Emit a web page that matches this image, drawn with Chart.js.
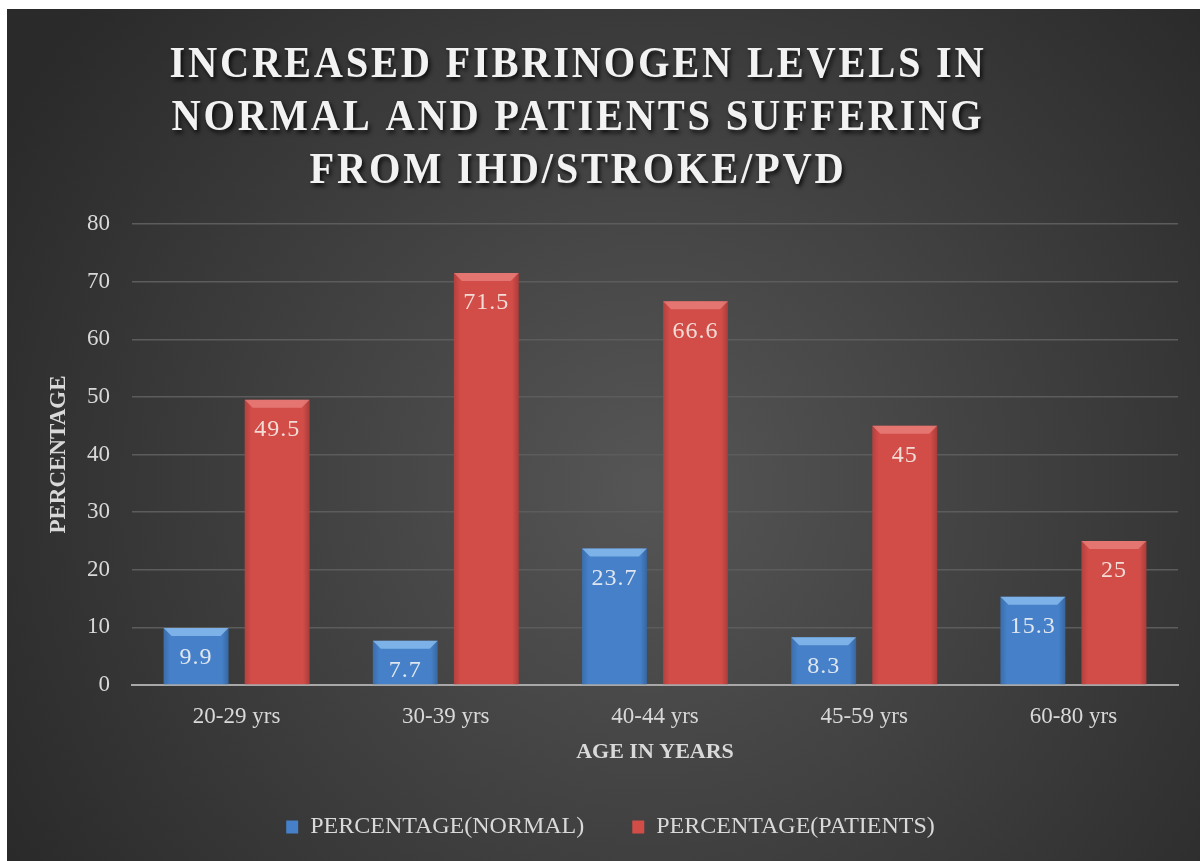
<!DOCTYPE html>
<html>
<head>
<meta charset="utf-8">
<script src="https://cdn.jsdelivr.net/npm/chart.js@4.4.0/dist/chart.umd.min.js"></script>
<style>
html,body{margin:0;padding:0;background:#fff;}
#wrap{position:absolute;left:7px;top:9px;width:1193px;height:852px;}
</style>
</head>
<body>
<div id="wrap"><canvas id="chart"></canvas></div>
<script>
// data
const categories = ['20-29 yrs', '30-39 yrs', '40-44 yrs', '45-59 yrs', '60-80 yrs'];
const normalPct = [9.9, 7.7, 23.7, 8.3, 15.3];
const patientPct = [49.5, 71.5, 66.6, 45, 25];
const seriesNames = ['PERCENTAGE(NORMAL)', 'PERCENTAGE(PATIENTS)'];
const titleLines = ['INCREASED FIBRINOGEN LEVELS IN', 'NORMAL AND PATIENTS SUFFERING', 'FROM IHD/STROKE/PVD'];
const yMin = 0, yMax = 80, yStep = 10;

const serif = "'Liberation Serif', 'DejaVu Serif', serif";
const textColor = '#d9d9d9';

// dark radial background
const bgPlugin = {
    id: 'bg',
    beforeDraw(chart){
        const ctx = chart.ctx, w = chart.width, h = chart.height;
        const g = ctx.createRadialGradient(w*0.54, h*0.56, 10, w*0.54, h*0.56, w*0.62);
        g.addColorStop(0, '#555555');
        g.addColorStop(1, '#2a2a2a');
        ctx.save();
        ctx.fillStyle = g;
        ctx.fillRect(0, 0, w, h);
        ctx.restore();
    }
};

// legend sits centred on the whole canvas, not the padded area
const legendShift = {
    id: 'legendShift',
    afterLayout(chart){
        if(chart.legend){ chart.legend.left += 18; chart.legend.right += 18; }
    }
};

// big spaced title with shadow, slightly condensed
const titlePlugin = {
    id: 'bigTitle',
    afterDraw(chart){
        const ctx = chart.ctx;
        ctx.save();
        ctx.font = 'bold 44px ' + serif;
        ctx.letterSpacing = '3px';
        ctx.textAlign = 'center';
        ctx.textBaseline = 'middle';
        ctx.fillStyle = '#f2f2f2';
        ctx.shadowColor = 'rgba(0,0,0,0.8)';
        ctx.shadowOffsetX = 2;
        ctx.shadowOffsetY = 3;
        ctx.shadowBlur = 4;
        titleLines.forEach((line, i) => {
            ctx.save();
            ctx.translate(571, 57 + i*53);
            ctx.scale(0.92, 1);
            ctx.fillText(line, 0, 0);
            ctx.restore();
        });
        ctx.restore();
    }
};

// bevel on top of each bar + value labels
const barLook = {
    id: 'barLook',
    afterDatasetsDraw(chart){
        const ctx = chart.ctx;
        ctx.save();
        chart.data.datasets.forEach((ds, di) => {
            const meta = chart.getDatasetMeta(di);
            meta.data.forEach((bar, i) => {
                const l = bar.x - bar.width/2, r = bar.x + bar.width/2, t = bar.y, b = 8;
                // side shading
                const side = ctx.createLinearGradient(l, 0, r, 0);
                side.addColorStop(0, 'rgba(0,0,0,0.15)');
                side.addColorStop(0.1, 'rgba(0,0,0,0)');
                side.addColorStop(0.9, 'rgba(0,0,0,0)');
                side.addColorStop(1, 'rgba(0,0,0,0.2)');
                ctx.fillStyle = side;
                ctx.fillRect(l, t, r - l, bar.base - t);
                // top bevel
                ctx.beginPath();
                ctx.moveTo(l, t); ctx.lineTo(r, t); ctx.lineTo(r - b, t + b); ctx.lineTo(l + b, t + b);
                ctx.closePath();
                ctx.fillStyle = di === 0 ? 'rgba(150,200,245,0.7)' : 'rgba(240,140,135,0.65)';
                ctx.fill();
                // value label
                ctx.font = '24px ' + serif;
                ctx.letterSpacing = '1px';
                ctx.textAlign = 'center';
                ctx.textBaseline = 'middle';
                ctx.fillStyle = di === 0 ? '#dfe6f0' : '#f3dcd6';
                ctx.fillText(String(ds.data[i]), bar.x, t + 30);
                ctx.letterSpacing = '0px';
            });
        });
        ctx.restore();
    }
};

new Chart(document.getElementById('chart'), {
    type: 'bar',
    data: {
        labels: categories,
        datasets: [
            { label: seriesNames[0], data: normalPct, backgroundColor: '#4580c8',
              categoryPercentage: 0.775, barPercentage: 0.8 },
            { label: seriesNames[1], data: patientPct, backgroundColor: '#d24c48',
              categoryPercentage: 0.775, barPercentage: 0.8 }
        ]
    },
    options: {
        responsive: true,
        maintainAspectRatio: false,
        animation: false,
        layout: { padding: { top: 215, right: 22, bottom: 12, left: 0 } },
        plugins: {
            title: { display: false },
            tooltip: { enabled: false },
            legend: {
                position: 'bottom',
                labels: { color: textColor, boxWidth: 12, boxHeight: 13, padding: 48,
                          font: { family: serif, size: 24 } }
            }
        },
        scales: {
            x: {
                grid: { display: false, drawTicks: false },
                border: { display: true, color: '#a8a8a8', width: 2 },
                ticks: { color: textColor, padding: 18, font: { family: serif, size: 23 } },
                title: { display: true, text: 'AGE IN YEARS', color: textColor,
                         font: { family: serif, size: 22, weight: 'bold' },
                         padding: { top: 0, bottom: 1 } },
                afterFit(scale){ scale.height = 82; }
            },
            y: {
                min: yMin, max: yMax,
                grid: { color: '#5c5c5c', lineWidth: 1.5, drawTicks: false },
                border: { display: false },
                ticks: { stepSize: yStep, color: textColor, padding: 22, font: { family: serif, size: 23 } },
                title: { display: true, text: 'PERCENTAGE', color: textColor,
                         font: { family: serif, size: 23, weight: 'bold' },
                         padding: { top: 38, bottom: 0 } },
                afterFit(scale){ scale.width = 125; }
            }
        }
    },
    plugins: [bgPlugin, legendShift, titlePlugin, barLook]
});
</script>
</body>
</html>
